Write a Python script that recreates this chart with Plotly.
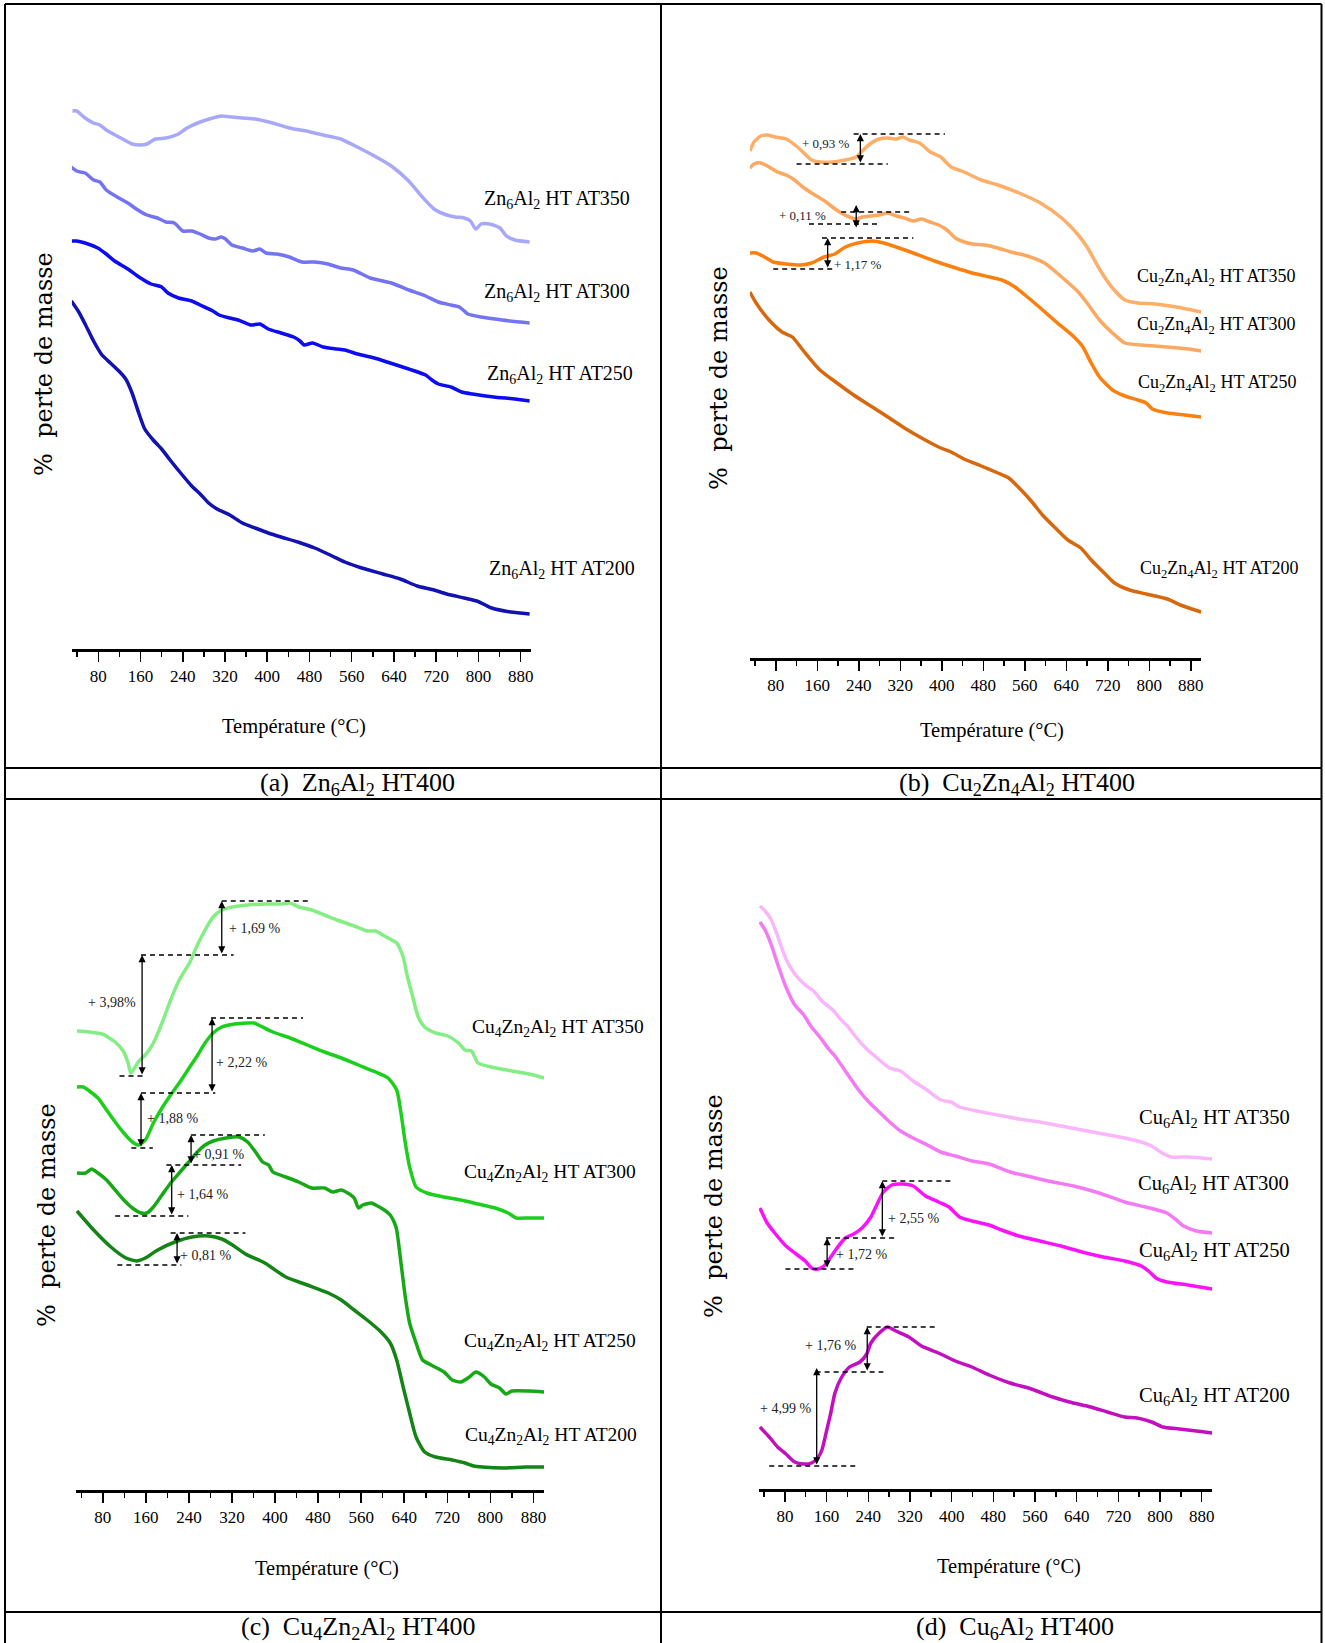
import plotly.graph_objects as go

W, H = 1325, 1643

# ---------------- data (temperature in °C, relative mass in arbitrary units) -------------
# (a) Zn6Al2 HT400
a350_t = [31,39,55,71,83,95,119,144,160,172,188,208,232,248,273,297,313,333,353,377,410,442,474,506,539,563,603,635,668,692,716,740,756,773,785,795,805,821,841,853,869,897]
a350_m = [538,538,531,526,524,519,512,505,504,505,510,511,515,521,527,531,533,532,531,530,526,521,518,514,510,504,493,483,468,453,440,434,432,431,428,420,425,425,421,413,409,407]
a300_t = [29,39,55,71,83,95,119,136,152,172,192,208,224,240,257,273,289,301,313,321,333,353,373,386,398,418,442,466,490,515,539,563,595,635,668,700,724,748,764,780,805,845,897]
a300_m = [482,478,476,469,467,459,451,446,440,434,431,427,426,418,418,415,411,410,412,410,404,401,398,400,396,395,392,387,387,385,381,379,371,366,359,353,347,344,342,335,332,329,326]
a250_t = [29,39,55,79,95,111,136,160,180,200,212,232,257,273,297,309,329,345,369,386,402,426,450,462,470,486,506,531,547,571,603,627,668,700,712,724,748,768,789,829,869,897]
a250_m = [408,408,406,401,395,388,380,371,365,362,356,351,348,344,338,334,331,329,324,325,320,316,312,308,304,306,302,300,299,295,291,287,280,274,269,265,262,257,255,252,250,248]
a200_t = [29,43,55,71,87,103,119,132,144,156,168,184,200,216,236,257,273,289,305,329,353,377,402,426,458,490,523,547,579,619,652,684,716,740,773,797,813,825,861,897]
a200_m = [348,337,325,308,294,286,278,270,256,237,220,209,200,189,176,163,155,146,140,134,126,121,116,112,107,101,93,87,81,75,70,63,59,55,51,48,44,41,37,35]

# (b) Cu2Zn4Al2 HT400
b350_t = [30,38,51,63,79,100,124,149,165,190,214,235,243,259,279,296,312,325,337,357,378,398,418,443,476,508,549,590,631,663,680,705,729,753,778,811,852,900]
b350_m = [507,516,522,523,521,519,510,498,496,496,498,501,505,513,519,520,519,521,518,515,506,501,491,486,478,473,465,455,440,423,411,388,370,358,355,354,351,346]
b300_t = [30,38,51,67,83,100,116,132,149,165,177,189,206,222,234,247,263,279,296,312,328,345,361,377,394,410,426,443,459,484,508,533,565,598,631,663,680,704,729,753,786,835,876,900]
b300_m = [490,494,495,491,486,483,478,471,465,460,456,451,445,441,439,441,442,443,445,442,440,437,439,436,433,428,420,416,414,413,410,406,402,395,381,366,355,338,325,315,313,311,309,307]
b250_t = [30,42,55,75,100,128,149,173,194,214,238,267,288,312,345,386,427,459,492,516,541,565,590,623,655,672,688,704,729,753,778,794,806,835,868,900]
b250_m = [405,405,402,396,394,393,395,401,404,411,415,417,415,411,405,397,390,385,381,378,371,361,350,335,321,311,295,281,268,262,258,255,249,245,243,241]
b200_t = [30,42,67,92,112,132,165,198,230,263,296,328,361,394,418,443,476,508,529,553,574,594,619,643,668,688,713,733,762,794,835,860,900]
b200_m = [366,355,338,326,321,308,288,275,263,252,241,230,220,211,206,199,192,185,180,168,156,143,130,118,110,98,85,75,68,64,59,53,46]

# (c) Cu4Zn2Al2 HT400
c350_t = [32,55,79,103,119,127,132,139,147,159,174,190,206,222,242,254,270,285,301,321,349,381,412,428,444,468,492,515,547,571,587,603,626,638,646,654,666,678,698,721,741,753,765,777,801,840,872,900]
c350_m = [459,458,456,448,438,427,417,422,429,435,447,467,490,510,528,543,560,573,580,583,585,586,586,587,583,580,575,570,564,559,559,554,547,533,513,497,473,463,457,454,447,440,439,427,423,419,416,412]
c300_t = [32,44,55,71,87,103,119,135,147,159,174,190,206,222,238,254,270,285,301,325,349,361,373,396,428,460,492,523,555,587,610,626,634,642,650,662,682,714,745,777,809,833,848,872,900]
c300_m = [403,403,399,392,380,368,357,348,345,350,367,382,395,407,420,433,447,457,463,466,467,467,464,458,452,445,438,432,425,418,412,400,377,347,323,303,297,293,290,286,282,277,272,272,272]
c250_t = [32,48,59,71,87,103,119,135,151,162,174,190,206,222,238,254,270,285,309,333,349,365,377,388,396,420,444,468,492,507,523,535,547,555,563,579,587,603,614,622,
          626,634,642,650,662,674,690,714,729,745,761,773,789,801,817,829,840,872,900]
c250_m = [317,317,321,317,310,300,290,282,277,277,283,295,307,317,327,337,345,349,352,353,348,337,328,325,318,313,308,302,302,298,300,297,292,282,285,287,285,280,275,267,
          260,227,193,167,147,130,125,118,110,108,113,118,113,106,102,96,99,99,98]
c200_t = [32,63,95,123,143,159,182,214,246,277,301,321,345,381,420,460,499,523,547,571,595,614,626,638,650,662,678,698,729,753,769,785,825,864,900]
c200_m = [279,260,243,232,229,232,240,248,253,254,251,245,236,227,213,205,197,190,180,170,159,147,130,103,77,53,38,33,30,27,24,23,22,23,23]

# (d) Cu6Al2 HT400
d350_t = [32,42,54,66,82,99,119,135,151,172,188,200,216,237,257,281,302,326,350,379,399,415,448,488,529,569,610,650,691,732,764,784,801,821,853,900]
d350_m = [583,578,569,553,530,515,504,498,488,479,469,463,452,440,431,421,418,408,400,389,387,382,378,374,370,367,363,359,355,351,347,343,337,332,332,330]
d300_t = [32,42,54,66,82,99,115,131,147,164,176,196,220,241,261,281,302,326,350,379,407,439,472,512,553,594,634,683,732,772,813,829,845,870,900]
d300_m = [567,559,544,525,502,484,475,462,452,440,433,418,400,387,377,367,358,351,345,337,333,328,325,317,312,307,303,296,287,282,276,270,263,258,256]
d250_t = [32,46,62,82,99,119,131,143,155,168,180,196,212,228,245,257,269,285,306,326,350,375,395,415,439,472,496,529,569,610,650,691,732,764,780,792,813,853,900]
d250_m = [281,266,255,243,236,228,221,220,223,232,241,251,255,261,272,285,297,304,305,303,293,287,282,272,268,264,259,253,248,243,237,232,228,223,217,211,207,204,200]
d200_t = [32,50,66,82,99,115,131,143,151,159,168,176,188,204,224,237,245,261,277,293,318,342,375,407,439,472,512,553,594,626,667,699,732,756,784,805,837,870,900]
d200_m = [62,52,42,35,27,25,26,31,39,56,76,96,111,122,127,135,146,156,162,158,152,143,136,128,122,114,106,100,92,87,82,77,72,71,67,62,60,58,56]

tick_vals = [80, 160, 240, 320, 400, 480, 560, 640, 720, 800, 880]
tick_text = [str(v) for v in tick_vals]

# gain markers: dashed levels (t0, t1, level), arrows (t, low, high), texts (label, t, level)
b_dash = [(230, 406, 524), (120, 296, 494), (206, 337, 446), (144, 275, 434), (169, 345, 420), (75, 190, 389)]
b_arrows = [(243, 494, 524), (235, 429, 453), (180, 389, 420)]
b_texts = [("+ 0,93 %", 177, 515), ("+ 0,11 %", 131, 443), ("+ 1,17 %", 239, 394)]

c_dash = [(301, 468, 589), (151, 323, 535), (111, 155, 414), (281, 452, 472), (151, 289, 397), (133, 173, 342),
          (244, 381, 355), (198, 337, 325), (103, 239, 274), (206, 345, 257), (107, 226, 225)]
c_arrows = [(301, 535, 589), (153, 414, 535), (283, 397, 472), (151, 342, 397), (244, 325, 355), (208, 274, 325), (218, 225, 257)]
c_texts = [("+ 1,69 %", 361, 562), ("+ 3,98%", 97, 488), ("+ 2,22 %", 337, 428), ("+ 1,88 %", 210, 372),
           ("+ 0,91 %", 295, 336), ("+ 1,64 %", 266, 296), ("+ 0,81 %", 270, 235)]

d_dash = [(267, 399, 308), (159, 293, 251), (81, 212, 220), (237, 368, 162), (139, 269, 117), (50, 216, 23)]
d_arrows = [(267, 251, 308), (161, 220, 251), (238, 117, 162), (141, 23, 121)]
d_texts = [("+ 2,55 %", 326, 271), ("+ 1,72 %", 227, 235), ("+ 1,76 %", 168, 144), ("+ 4,99 %", 81, 81)]

# ---------------- styling / layout geometry (pixels) ----------------
SERIF = "Liberation Serif, Times New Roman, serif"
WIDE = "DejaVu Serif, serif"

panels = {
    "a": dict(ax="", x0=72, x1=532, yb=649, title_xy=(294, 726), ytitle_xy=(44, 364), lab_size=20, ann_size=14,
              caption="(a)  Zn<sub>6</sub>Al<sub>2</sub> HT400", cap_xy=(358, 784),
              curves=[(a350_t, a350_m, "#a8a8f8", "Zn<sub>6</sub>Al<sub>2</sub> HT AT350", (558, 199)),
                      (a300_t, a300_m, "#7474f2", "Zn<sub>6</sub>Al<sub>2</sub> HT AT300", (558, 292)),
                      (a250_t, a250_m, "#0c0cee", "Zn<sub>6</sub>Al<sub>2</sub> HT AT250", (561, 374)),
                      (a200_t, a200_m, "#1212b0", "Zn<sub>6</sub>Al<sub>2</sub> HT AT200", (563, 569))],
              dash=[], arrows=[], texts=[]),
    "b": dict(ax="2", x0=751, x1=1203, yb=658, title_xy=(994, 730), ytitle_xy=(720, 378), lab_size=18, ann_size=13,
              caption="(b)  Cu<sub>2</sub>Zn<sub>4</sub>Al<sub>2</sub> HT400", cap_xy=(1019, 784),
              curves=[(b350_t, b350_m, "#fdae68", "Cu<sub>2</sub>Zn<sub>4</sub>Al<sub>2</sub> HT AT350", (1218, 277)),
                      (b300_t, b300_m, "#fca860", "Cu<sub>2</sub>Zn<sub>4</sub>Al<sub>2</sub> HT AT300", (1218, 325)),
                      (b250_t, b250_m, "#fb8010", "Cu<sub>2</sub>Zn<sub>4</sub>Al<sub>2</sub> HT AT250", (1219, 383)),
                      (b200_t, b200_m, "#d8680e", "Cu<sub>2</sub>Zn<sub>4</sub>Al<sub>2</sub> HT AT200", (1221, 570))],
              dash=b_dash, arrows=b_arrows, texts=b_texts),
    "c": dict(ax="3", x0=76, x1=545, yb=1490, title_xy=(327, 1568), ytitle_xy=(47, 1215), lab_size=19.5, ann_size=14,
              caption="(c)  Cu<sub>4</sub>Zn<sub>2</sub>Al<sub>2</sub> HT400", cap_xy=(359, 1628),
              curves=[(c350_t, c350_m, "#84ee84", "Cu<sub>4</sub>Zn<sub>2</sub>Al<sub>2</sub> HT AT350", (559, 1028)),
                      (c300_t, c300_m, "#1ccf1c", "Cu<sub>4</sub>Zn<sub>2</sub>Al<sub>2</sub> HT AT300", (551, 1173)),
                      (c250_t, c250_m, "#17a817", "Cu<sub>4</sub>Zn<sub>2</sub>Al<sub>2</sub> HT AT250", (551, 1342)),
                      (c200_t, c200_m, "#148414", "Cu<sub>4</sub>Zn<sub>2</sub>Al<sub>2</sub> HT AT200", (552, 1436))],
              dash=c_dash, arrows=c_arrows, texts=c_texts),
    "d": dict(ax="4", x0=760, x1=1214, yb=1489, title_xy=(1011, 1566), ytitle_xy=(715, 1206), lab_size=20.5, ann_size=14,
              caption="(d)  Cu<sub>6</sub>Al<sub>2</sub> HT400", cap_xy=(1017, 1628),
              curves=[(d350_t, d350_m, "#fab6fa", "Cu<sub>6</sub>Al<sub>2</sub> HT AT350", (1216, 1118)),
                      (d300_t, d300_m, "#f47af4", "Cu<sub>6</sub>Al<sub>2</sub> HT AT300", (1215, 1184)),
                      (d250_t, d250_m, "#fa12fa", "Cu<sub>6</sub>Al<sub>2</sub> HT AT250", (1216, 1251)),
                      (d200_t, d200_m, "#c010c0", "Cu<sub>6</sub>Al<sub>2</sub> HT AT200", (1216, 1396))],
              dash=d_dash, arrows=d_arrows, texts=d_texts),
}

PLOT_H = 600  # pixel height of each plotting area == y range


def px(x):
    return x / W


def py(y):
    return 1 - y / H


def paper_text(text, x, y, size, family=SERIF, angle=0):
    return dict(text=text, x=px(x), y=py(y), xref="paper", yref="paper", showarrow=False,
                xanchor="center", yanchor="middle", textangle=angle,
                font=dict(family=family, size=size, color="black"))


fig = go.Figure()
annotations = []
shapes = []
layout = {}

for key, p in panels.items():
    ax = p["ax"]
    xname, yname = "x" + ax, "y" + ax
    for t, m, color, label, (lx, ly) in p["curves"]:
        fig.add_trace(go.Scatter(x=t, y=m, mode="lines", xaxis=xname, yaxis=yname,
                                 line=dict(color=color, width=3.5, shape="spline", smoothing=0.6),
                                 showlegend=False, hoverinfo="skip"))
        annotations.append(paper_text(label, lx, ly, p["lab_size"]))
    layout["xaxis" + ax] = dict(domain=[px(p["x0"]), px(p["x1"])], range=[30, 900], anchor=yname,
                                showline=True, linecolor="black", linewidth=2.5,
                                ticks="outside", tickvals=tick_vals, ticktext=tick_text,
                                ticklen=10, tickwidth=1.5, tickcolor="black",
                                minor=dict(ticks="outside", tick0=0, dtick=40, ticklen=5,
                                           tickwidth=1.5, tickcolor="black"),
                                showgrid=False, zeroline=False,
                                tickfont=dict(family=SERIF, size=17, color="black"))
    layout["yaxis" + ax] = dict(domain=[py(p["yb"]), py(p["yb"] - PLOT_H)], range=[0, PLOT_H],
                                anchor=xname, visible=False)
    # axis titles and captions
    tx, ty = p["title_xy"]
    annotations.append(paper_text("Température (°C)", tx, ty, 20.5))
    vx, vy = p["ytitle_xy"]
    annotations.append(paper_text("%  perte de masse", vx, vy, 24, family=WIDE, angle=-90))
    cx, cy = p["cap_xy"]
    annotations.append(paper_text(p["caption"], cx, cy, 26))
    # gain markers
    for t0, t1, lev in p["dash"]:
        shapes.append(dict(type="line", xref=xname, yref=yname, x0=t0, x1=t1, y0=lev, y1=lev,
                           line=dict(color="black", width=1.6, dash="5px,4px")))
    for t, lo, hi in p["arrows"]:
        annotations.append(dict(x=t, y=hi, ax=t, ay=lo, xref=xname, yref=yname, axref=xname, ayref=yname,
                                text="", showarrow=True, arrowhead=2, arrowside="end+start",
                                arrowsize=1.1, arrowwidth=1.3, arrowcolor="black", standoff=0, startstandoff=0))
    for txt, t, lev in p["texts"]:
        annotations.append(dict(text=txt, x=t, y=lev, xref=xname, yref=yname, showarrow=False,
                                xanchor="center", yanchor="middle",
                                font=dict(family=SERIF, size=p["ann_size"], color="#222222")))

# table borders
BL = dict(color="black", width=2)
shapes += [
    dict(type="line", xref="paper", yref="paper", x0=px(5), x1=px(5), y0=py(4), y1=py(1643), line=BL),
    dict(type="line", xref="paper", yref="paper", x0=px(1323.5), x1=px(1323.5), y0=py(4), y1=py(1643), line=BL),
    dict(type="line", xref="paper", yref="paper", x0=px(662), x1=px(662), y0=py(4), y1=py(1643), line=BL),
    dict(type="line", xref="paper", yref="paper", x0=px(5), x1=px(1323.5), y0=py(4), y1=py(4), line=BL),
    dict(type="line", xref="paper", yref="paper", x0=px(5), x1=px(1323.5), y0=py(768), y1=py(768), line=BL),
    dict(type="line", xref="paper", yref="paper", x0=px(5), x1=px(1323.5), y0=py(799), y1=py(799), line=BL),
    dict(type="line", xref="paper", yref="paper", x0=px(5), x1=px(1323.5), y0=py(1612), y1=py(1612), line=BL),
]

fig.update_layout(width=W, height=H, margin=dict(l=0, r=0, t=0, b=0),
                  paper_bgcolor="white", plot_bgcolor="white",
                  annotations=annotations, shapes=shapes, **layout)

fig.write_html("out.html", config={"displayModeBar": False, "staticPlot": True},
               post_script="document.body.style.margin='0px';document.body.style.overflow='hidden';")
